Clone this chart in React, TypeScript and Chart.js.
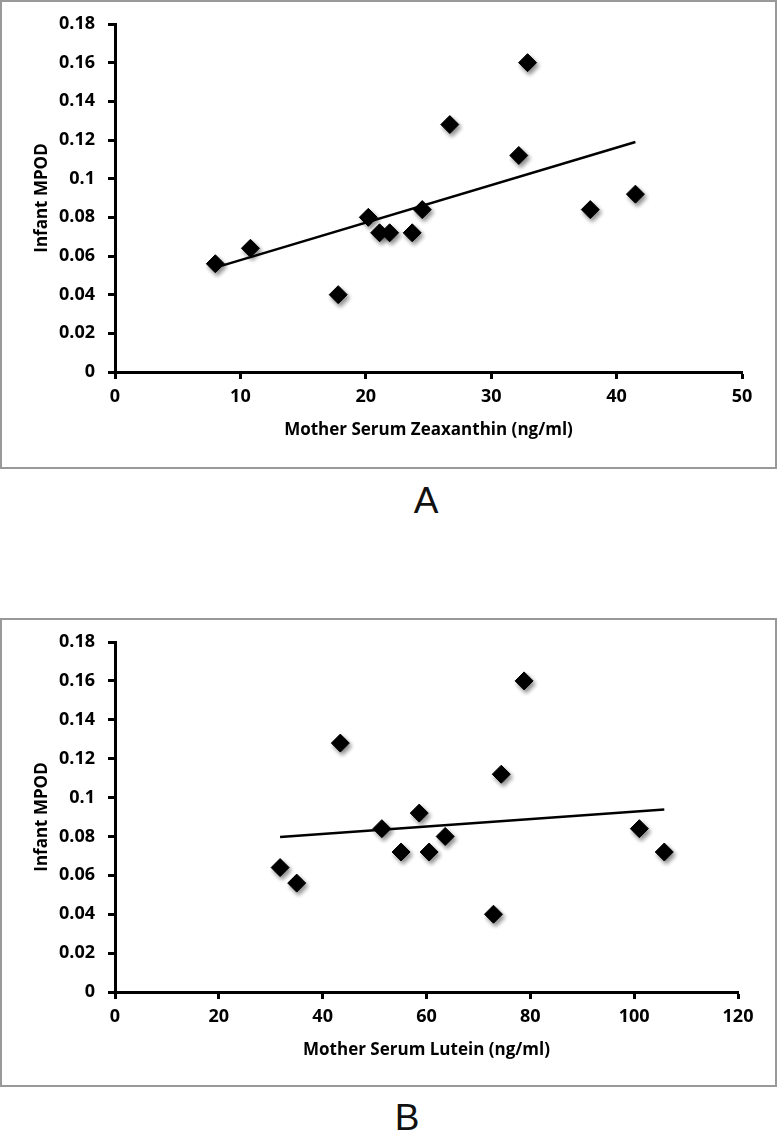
import React, { useEffect, useRef } from 'react';
import { Chart, registerables } from 'chart.js';

Chart.register(...registerables);

// ---- Data ----
const zeaxanthinX = [8.0, 10.8, 17.8, 20.2, 21.1, 21.9, 23.7, 24.5, 26.7, 32.2, 32.9, 37.9, 41.5];
const mpodA = [0.056, 0.064, 0.040, 0.080, 0.072, 0.072, 0.072, 0.084, 0.128, 0.112, 0.160, 0.084, 0.092];
const trendAX = [8.0, 41.5];
const trendAY = [0.054, 0.119];

const luteinX = [31.8, 35.0, 43.4, 51.4, 55.1, 58.6, 60.5, 63.6, 72.9, 74.4, 78.8, 101.0, 105.8];
const mpodB = [0.064, 0.056, 0.128, 0.084, 0.072, 0.092, 0.072, 0.080, 0.040, 0.112, 0.160, 0.084, 0.072];
const trendBX = [31.8, 105.8];
const trendBY = [0.0797, 0.0939];

const xTicksA = [0, 10, 20, 30, 40, 50];
const xTicksB = [0, 20, 40, 60, 80, 100, 120];
const yTicks = [0, 0.02, 0.04, 0.06, 0.08, 0.1, 0.12, 0.14, 0.16, 0.18];

const yTitle = 'Infant MPOD';
const xTitleA = 'Mother Serum Zeaxanthin (ng/ml)';
const xTitleB = 'Mother Serum Lutein (ng/ml)';

const TICK_FONT = { family: '"Open Sans"', weight: 'bold' as const, size: 18 };
const TITLE_FONT = { family: '"Open Sans"', weight: 'bold' as const, size: 17 };

const shadowPlugin = {
  id: 'markerShadow',
  beforeDatasetDraw(chart: any, args: any) {
    if (args.index !== 0) return;
    const ctx = chart.ctx;
    ctx.save();
    ctx.shadowColor = 'rgba(0,0,0,0.45)';
    ctx.shadowBlur = 4;
    ctx.shadowOffsetX = 2;
    ctx.shadowOffsetY = 3;
  },
  afterDatasetDraw(chart: any, args: any) {
    if (args.index !== 0) return;
    chart.ctx.restore();
  },
};

type P = {
  xs: number[];
  ys: number[];
  tx: number[];
  ty: number[];
  xTicks: number[];
  xTitle: string;
  top: number;
  right: number;
  xAxisH: number;
  titlePad: number;
};

function makeConfig(p: P): any {
  return {
    type: 'scatter',
    data: {
      datasets: [
        {
          data: p.xs.map((x, i) => ({ x, y: p.ys[i] })),
          pointStyle: 'rectRot',
          pointRadius: 9,
          pointHoverRadius: 9,
          backgroundColor: '#000',
          borderColor: '#000',
          borderWidth: 1,
          showLine: false,
        },
        {
          data: p.tx.map((x, i) => ({ x, y: p.ty[i] })),
          showLine: true,
          pointRadius: 0,
          borderColor: '#000',
          borderWidth: 2.5,
          fill: false,
        },
      ],
    },
    options: {
      responsive: false,
      animation: false,
      events: [],
      layout: { padding: { left: 0, top: p.top, right: p.right, bottom: 0 } },
      plugins: { legend: { display: false }, tooltip: { enabled: false } },
      scales: {
        x: {
          type: 'linear',
          min: p.xTicks[0],
          max: p.xTicks[p.xTicks.length - 1],
          afterBuildTicks: (s: any) => {
            s.ticks = p.xTicks.map((v) => ({ value: v }));
          },
          afterFit: (s: any) => {
            s.height = p.xAxisH;
          },
          border: { display: true, color: '#000', width: 3 },
          grid: {
            display: true,
            drawOnChartArea: false,
            drawTicks: true,
            tickLength: 7,
            tickWidth: 3,
            tickColor: '#000',
          },
          ticks: {
            color: '#000',
            font: TICK_FONT,
            padding: 7,
            maxRotation: 0,
            autoSkip: false,
            callback: (v: any) => String(v),
          },
          title: {
            display: true,
            text: p.xTitle,
            color: '#000',
            font: TITLE_FONT,
            padding: { top: 0, bottom: p.titlePad },
          },
        },
        y: {
          type: 'linear',
          min: 0,
          max: 0.18,
          afterBuildTicks: (s: any) => {
            s.ticks = yTicks.map((v) => ({ value: v }));
          },
          afterFit: (s: any) => {
            s.width = 115;
          },
          border: { display: true, color: '#000', width: 3 },
          grid: {
            display: true,
            drawOnChartArea: false,
            drawTicks: true,
            tickLength: 7,
            tickWidth: 3,
            tickColor: '#000',
          },
          ticks: {
            color: '#000',
            font: TICK_FONT,
            padding: 13,
            autoSkip: false,
            callback: (v: any) => String(v),
          },
          title: {
            display: true,
            text: yTitle,
            color: '#000',
            font: TITLE_FONT,
            padding: { top: 32, bottom: 0 },
          },
        },
      },
    },
    plugins: [shadowPlugin],
  };
}

function ChartCanvas({ cfg, top }: { cfg: P; top: number }) {
  const ref = useRef<HTMLCanvasElement | null>(null);
  useEffect(() => {
    if (!ref.current) return;
    const chart = new Chart(ref.current, makeConfig(cfg));
    return () => chart.destroy();
  }, []);
  return (
    <canvas
      ref={ref}
      width={778}
      height={470}
      style={{ position: 'absolute', left: 0, top, width: 778, height: 470 }}
    />
  );
}

const boxStyle = (top: number): React.CSSProperties => ({
  position: 'absolute',
  left: 0,
  top,
  width: 777,
  height: 469,
  border: '2px solid #999',
  boxSizing: 'border-box',
  background: '#fff',
});

const labelStyle = (cx: number, cy: number): React.CSSProperties => ({
  position: 'absolute',
  left: cx,
  top: cy,
  transform: 'translate(-50%, -50%)',
  fontFamily: '"Liberation Sans", Arial, sans-serif',
  fontSize: 37,
  lineHeight: 1,
  color: '#111',
  whiteSpace: 'nowrap',
});

export default function App() {
  const cfgA: P = {
    xs: zeaxanthinX,
    ys: mpodA,
    tx: trendAX,
    ty: trendAY,
    xTicks: xTicksA,
    xTitle: xTitleA,
    top: 24,
    right: 36,
    xAxisH: 98,
    titlePad: 30,
  };
  const cfgB: P = {
    xs: luteinX,
    ys: mpodB,
    tx: trendBX,
    ty: trendBY,
    xTicks: xTicksB,
    xTitle: xTitleB,
    top: 24,
    right: 40,
    xAxisH: 96,
    titlePad: 28,
  };
  return (
    <div
      style={{
        position: 'absolute',
        left: 0,
        top: 0,
        width: 778,
        height: 1130,
        background: '#fff',
        overflow: 'hidden',
      }}
    >
      <div style={boxStyle(0)} />
      <ChartCanvas cfg={cfgA} top={0} />
      <div style={labelStyle(426, 500)}>A</div>
      <div style={boxStyle(618)} />
      <ChartCanvas cfg={cfgB} top={618} />
      <div style={labelStyle(407, 1117)}>B</div>
    </div>
  );
}
